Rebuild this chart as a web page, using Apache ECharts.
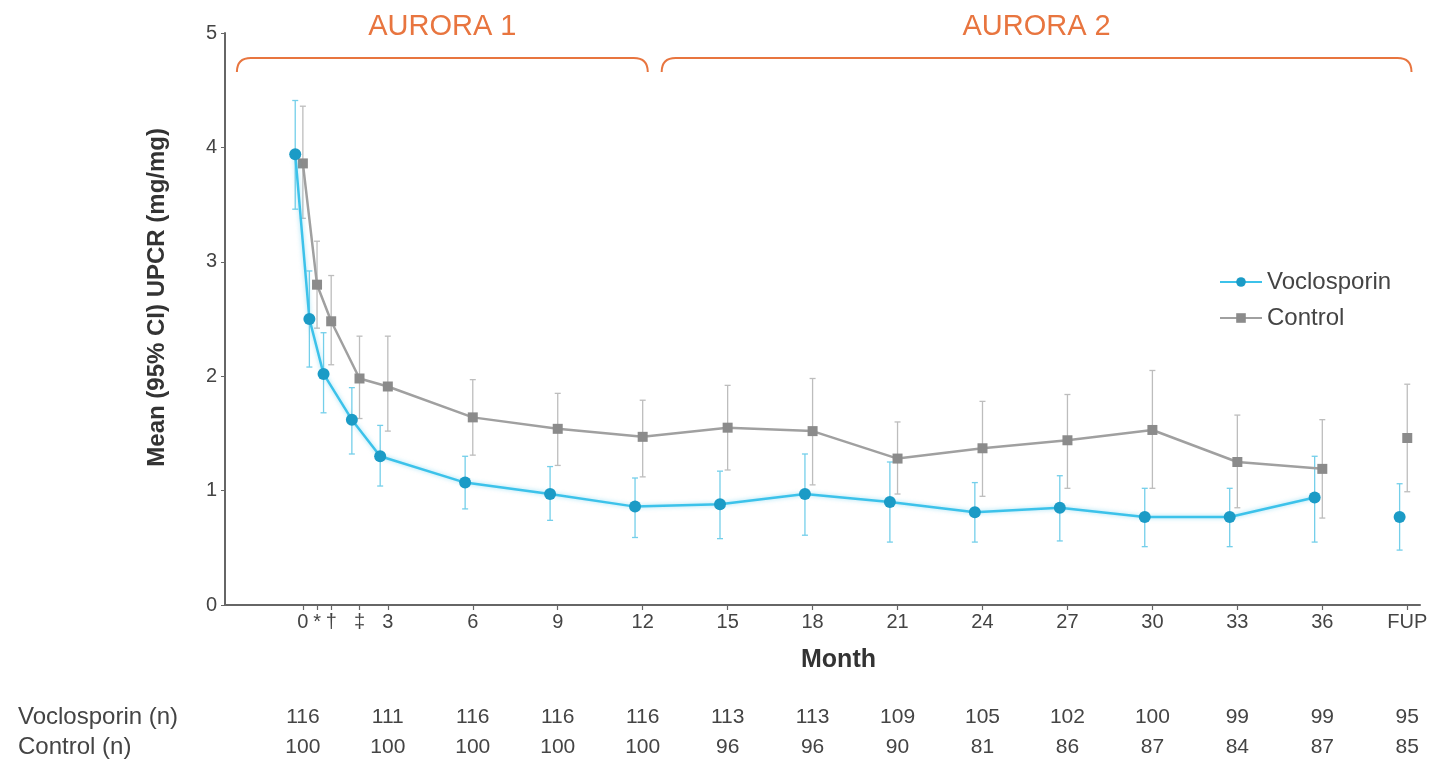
<!DOCTYPE html>
<html>
<head>
<meta charset="utf-8">
<script src="https://cdn.jsdelivr.net/npm/echarts@6/dist/echarts.min.js"></script>
<style>
  html, body { margin: 0; padding: 0; background: #fff; }
  #chart { width: 1430px; height: 765px; }
</style>
</head>
<body>
<div id="chart"></div>
<script>
// Visit time points (months) and their axis labels
const visitMonths = [0, 0.5, 1, 2, 3, 6, 9, 12, 15, 18, 21, 24, 27, 30, 33, 36, 39];
const visitLabels = ['0', '*', '†', '‡', '3', '6', '9', '12', '15', '18', '21', '24', '27', '30', '33', '36', 'FUP'];

// Mean UPCR (mg/mg) with 95% CI
const vocMean = [3.94, 2.50, 2.02, 1.62, 1.30, 1.07, 0.97, 0.86, 0.88, 0.97, 0.90, 0.81, 0.85, 0.77, 0.77, 0.94, 0.77];
const vocLow  = [3.46, 2.08, 1.68, 1.32, 1.04, 0.84, 0.74, 0.59, 0.58, 0.61, 0.55, 0.55, 0.56, 0.51, 0.51, 0.55, 0.48];
const vocHigh = [4.41, 2.92, 2.38, 1.90, 1.57, 1.30, 1.21, 1.11, 1.17, 1.32, 1.25, 1.07, 1.13, 1.02, 1.02, 1.30, 1.06];

const ctrlMean = [3.86, 2.80, 2.48, 1.98, 1.91, 1.64, 1.54, 1.47, 1.55, 1.52, 1.28, 1.37, 1.44, 1.53, 1.25, 1.19, 1.46];
const ctrlLow  = [3.38, 2.42, 2.10, 1.63, 1.52, 1.31, 1.22, 1.12, 1.18, 1.05, 0.97, 0.95, 1.02, 1.02, 0.85, 0.76, 0.99];
const ctrlHigh = [4.36, 3.18, 2.88, 2.35, 2.35, 1.97, 1.85, 1.79, 1.92, 1.98, 1.60, 1.78, 1.84, 2.05, 1.66, 1.62, 1.93];

// Patients at risk table
const nMonths = [0, 3, 6, 9, 12, 15, 18, 21, 24, 27, 30, 33, 36, 39];
const vocN  = [116, 111, 116, 116, 116, 113, 113, 109, 105, 102, 100, 99, 99, 95];
const ctrlN = [100, 100, 100, 100, 100, 96, 96, 90, 81, 86, 87, 84, 87, 85];

// Study periods (months)
const phaseNames = ['AURORA 1', 'AURORA 2'];
const phaseStart = [-2.33, 12.67];
const phaseEnd   = [12.18, 39.15];

const FONT = '"Liberation Sans", Arial, sans-serif';
const VOC_DODGE = -0.27;   // horizontal shift so the two groups don't overlap
const X_MIN = -2.75, X_MAX = 39.45;

const vocColor = '#1b9bc6', vocLine = '#3cc2ea', vocErr = '#74cfea';
const ctrlColor = '#8b8b8b', ctrlLine = '#a0a0a0', ctrlErr = '#bdbdbd';
const orange = '#e8753f';
const textColor = '#444';

const lastMain = visitMonths.length - 1; // FUP is drawn unconnected

function pts(mean, dodge, from, to) {
  const out = [];
  for (let i = from; i < to; i++) out.push([visitMonths[i] + dodge, mean[i]]);
  return out;
}
function ci(low, high, dodge) {
  return visitMonths.map((m, i) => [m + dodge, low[i], high[i]]);
}

function errorBar(color) {
  return function (params, api) {
    const x = api.value(0);
    const lo = api.coord([x, api.value(1)]);
    const hi = api.coord([x, api.value(2)]);
    const cap = 3;
    const style = { stroke: color, lineWidth: 1.3 };
    return {
      type: 'group',
      children: [
        { type: 'line', shape: { x1: lo[0], y1: lo[1], x2: hi[0], y2: hi[1] }, style },
        { type: 'line', shape: { x1: lo[0] - cap, y1: lo[1], x2: lo[0] + cap, y2: lo[1] }, style },
        { type: 'line', shape: { x1: hi[0] - cap, y1: hi[1], x2: hi[0] + cap, y2: hi[1] }, style }
      ]
    };
  };
}

const chart = echarts.init(document.getElementById('chart'), null, { renderer: 'canvas' });

const baseX = {
  type: 'value', min: X_MIN, max: X_MAX, gridIndex: 0,
  splitLine: { show: false }
};

function countRow(offset, counts) {
  return Object.assign({}, baseX, {
    position: 'bottom', offset: offset,
    axisLine: { show: false, onZero: false }, axisTick: { show: false },
    axisLabel: {
      customValues: nMonths, margin: 0, fontSize: 21, color: textColor, fontFamily: FONT,
      formatter: v => { const i = nMonths.indexOf(v); return i >= 0 ? String(counts[i]) : ''; }
    }
  });
}

const option = {
  backgroundColor: '#ffffff',
  animation: false,
  textStyle: { fontFamily: FONT },
  grid: { left: 225, right: 10, top: 33, bottom: 160, outerBoundsMode: 'none', containLabel: false },
  legend: {
    orient: 'vertical',
    left: 1214, top: 265,
    itemWidth: 42, itemHeight: 12, itemGap: 12,
    textStyle: { fontFamily: FONT, fontSize: 24, color: textColor },
    data: ['Voclosporin', 'Control']
  },
  xAxis: [
    Object.assign({}, baseX, {
      position: 'bottom',
      name: 'Month', nameLocation: 'middle', nameGap: 43,
      nameTextStyle: { fontFamily: FONT, fontSize: 25, fontWeight: 'bold', color: '#333', padding: [0, 0, 0, 32] },
      axisLine: { show: true, onZero: false, lineStyle: { color: '#666', width: 2 } },
      axisTick: { show: true, length: 5, lineStyle: { color: '#666', width: 1.2 }, customValues: visitMonths },
      axisLabel: {
        customValues: visitMonths, margin: 7, fontSize: 20, color: textColor, fontFamily: FONT,
        formatter: v => { const i = visitMonths.indexOf(v); return i >= 0 ? visitLabels[i] : ''; }
      }
    }),
    countRow(102, vocN),
    countRow(132, ctrlN)
  ],
  yAxis: {
    type: 'value', min: 0, max: 5, interval: 1,
    splitLine: { show: false },
    axisLine: { show: true, onZero: false, lineStyle: { color: '#666', width: 2 } },
    axisTick: { show: true, length: 4, lineStyle: { color: '#666' } },
    axisLabel: { fontSize: 20, color: textColor, margin: 8, fontFamily: FONT }
  },
  graphic: [
    {
      type: 'text', left: 145, top: 128, rotation: Math.PI / 2,
      style: { text: 'Mean (95% CI) UPCR (mg/mg)', font: 'bold 24px ' + FONT, fill: '#333' }
    },
    { type: 'text', left: 18, top: 705, style: { text: 'Voclosporin (n)', font: '24px ' + FONT, fill: textColor } },
    { type: 'text', left: 18, top: 735, style: { text: 'Control (n)', font: '24px ' + FONT, fill: textColor } }
  ],
  series: [
    // study period brackets
    {
      type: 'custom', silent: true, clip: false, z: 1,
      data: phaseNames.map((n, i) => [phaseStart[i], phaseEnd[i], i]),
      encode: { x: [0, 1] },
      renderItem: (params, api) => {
        const a = api.coord([api.value(0), 5]);
        const b = api.coord([api.value(1), 5]);
        const y = a[1] + 25, drop = 14, r = 14;
        const name = phaseNames[api.value(2)];
        return {
          type: 'group',
          children: [
            {
              type: 'path',
              shape: {
                pathData: `M${a[0]},${y + drop} Q${a[0]},${y} ${a[0] + r},${y} L${b[0] - r},${y} Q${b[0]},${y} ${b[0]},${y + drop}`
              },
              style: { stroke: orange, lineWidth: 2, fill: null }
            },
            {
              type: 'text',
              style: {
                text: name, x: (a[0] + b[0]) / 2, y: y - 31,
                align: 'center', verticalAlign: 'middle',
                font: '29px ' + FONT, fill: orange
              }
            }
          ]
        };
      }
    },
    // 95% CI error bars
    {
      type: 'custom', silent: true, z: 2,
      data: ci(ctrlLow, ctrlHigh, 0), encode: { x: 0, y: [1, 2] },
      renderItem: errorBar(ctrlErr)
    },
    {
      type: 'custom', silent: true, z: 3,
      data: ci(vocLow, vocHigh, VOC_DODGE), encode: { x: 0, y: [1, 2] },
      renderItem: errorBar(vocErr)
    },
    // Control means
    {
      type: 'line', name: 'Control', z: 4,
      data: pts(ctrlMean, 0, 0, lastMain),
      symbol: 'rect', symbolSize: 10,
      lineStyle: { color: ctrlLine, width: 2.5 },
      itemStyle: { color: ctrlColor }
    },
    {
      type: 'line', name: 'Control', z: 4,
      data: pts(ctrlMean, 0, lastMain, visitMonths.length),
      symbol: 'rect', symbolSize: 10,
      lineStyle: { color: ctrlLine, width: 2.5 },
      itemStyle: { color: ctrlColor }
    },
    // Voclosporin means
    {
      type: 'line', name: 'Voclosporin', z: 5,
      data: pts(vocMean, VOC_DODGE, 0, lastMain),
      symbol: 'circle', symbolSize: 12,
      lineStyle: { color: vocLine, width: 2.5, shadowBlur: 4, shadowColor: 'rgba(60,194,234,0.5)' },
      itemStyle: { color: vocColor }
    },
    {
      type: 'line', name: 'Voclosporin', z: 5,
      data: pts(vocMean, VOC_DODGE, lastMain, visitMonths.length),
      symbol: 'circle', symbolSize: 12,
      lineStyle: { color: vocLine, width: 2.5 },
      itemStyle: { color: vocColor }
    }
  ]
};

chart.setOption(option);
</script>
</body>
</html>
